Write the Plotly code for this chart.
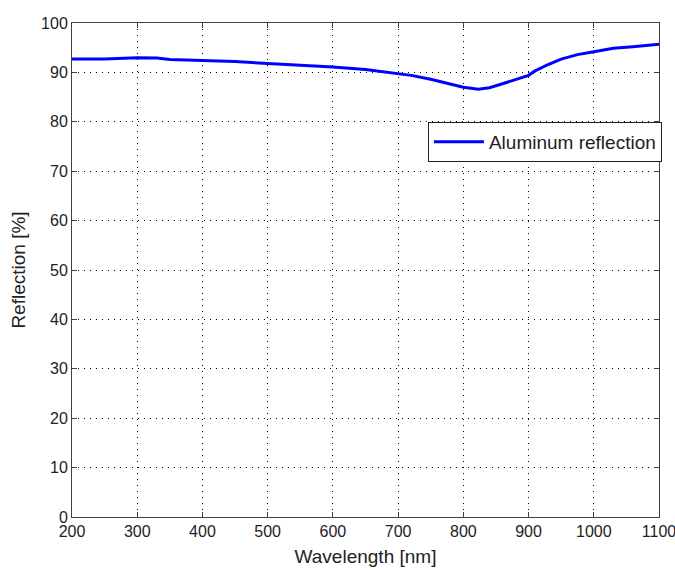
import plotly.graph_objects as go

wavelength = [200, 250, 300, 330, 350, 400, 450, 500, 550, 600, 650, 700, 720, 750, 780,
              800, 823, 840, 860, 880, 900, 910, 930, 950, 975, 1000, 1030, 1060, 1100]
reflection = [92.7, 92.7, 92.95, 92.9, 92.6, 92.4, 92.2, 91.8, 91.5, 91.1, 90.6, 89.8, 89.4,
              88.6, 87.6, 87.0, 86.6, 86.9, 87.7, 88.5, 89.4, 90.3, 91.6, 92.7, 93.6, 94.2,
              94.9, 95.2, 95.7]
x_ticks = [200, 300, 400, 500, 600, 700, 800, 900, 1000, 1100]
y_ticks = [0, 10, 20, 30, 40, 50, 60, 70, 80, 90, 100]

FONT = "Liberation Sans Narrow, Arial Narrow, Liberation Sans, Arial, sans-serif"
TXT = "#222222"

fig = go.Figure()
fig.add_trace(go.Scatter(x=wavelength, y=reflection, mode="lines",
                         name="Aluminum reflection",
                         line=dict(color="#0000FF", width=3)))

axis_common = dict(showline=True, linecolor="#404040", linewidth=1, mirror="ticks",
                   ticks="inside", ticklen=5, tickcolor="#404040",
                   showgrid=True, gridcolor="#000000", griddash="1px,5px", gridwidth=1,
                   zeroline=False, tickfont=dict(family=FONT, size=16, color=TXT),
                   ticklabeloverflow="allow", automargin=False)

fig.update_xaxes(range=[200, 1100], tickvals=x_ticks,
                 title=dict(text="Wavelength [nm]", font=dict(family=FONT, size=19, color=TXT),
                            standoff=10),
                 **axis_common)
fig.update_yaxes(range=[0, 100], tickvals=y_ticks,
                 title=dict(text="Reflection [%]", font=dict(family=FONT, size=19, color=TXT),
                            standoff=10),
                 **axis_common)

fig.update_layout(
    width=675, height=570,
    margin=dict(l=72, r=16, t=23, b=53),
    paper_bgcolor="white", plot_bgcolor="white",
    showlegend=True,
    legend=dict(x=1.005, y=0.80, xanchor="right", yanchor="top",
                bgcolor="white", bordercolor="#222222", borderwidth=1,
                itemwidth=50,
                font=dict(family=FONT, size=19, color=TXT)),
)

fig.write_html("out.html")
